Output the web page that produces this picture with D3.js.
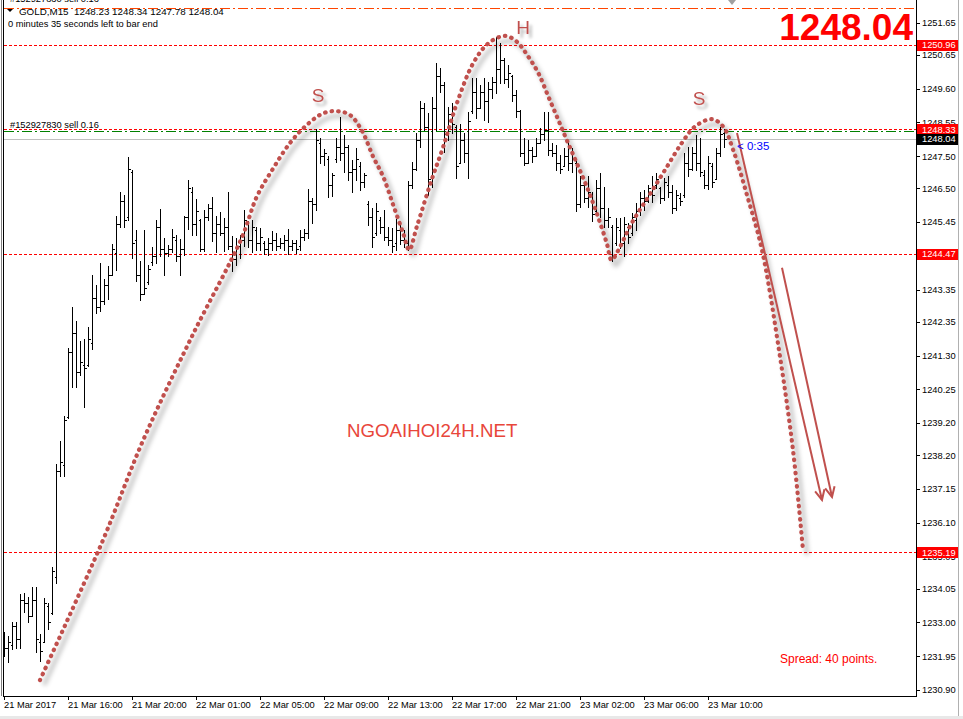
<!DOCTYPE html>
<html>
<head>
<meta charset="utf-8">
<script src="https://cdn.jsdelivr.net/npm/d3@7/dist/d3.min.js"></script>
<style>
body { margin: 0; background: #fff; }
svg { display: block; font-family: "Liberation Sans", Arial, sans-serif; }
text { white-space: pre; }
</style>
</head>
<body>
<svg id="chart" width="963" height="719"></svg>
<script>
// GOLD M15 bars, one per 15 minutes
var open = [
1232.5,1232.2,1232.3,1232.9,1232.5,1233.7,1233.6,1233.2,1233.7,1232.4,
1232.4,1233.5,1233.3,1234.4,1237.7,1237.9,1239.4,1241.4,1242.0,1240.8,
1241.0,1241.0,1241.7,1243.1,1242.8,1243.0,1243.5,1243.8,1244.5,1245.4,
1246.1,1245.6,1247.0,1244.9,1243.8,1243.2,1243.6,1244.2,1244.4,1245.3,
1244.6,1244.5,1244.6,1244.9,1244.4,1244.6,1245.6,1246.4,1245.4,1245.5,
1244.6,1245.6,1245.9,1245.1,1245.4,1245.1,1245.3,1244.7,1244.3,1244.7,
1244.9,1245.4,1244.9,1245.2,1244.8,1244.8,1244.6,1244.8,1244.9,1244.7,
1244.8,1244.9,1244.7,1244.8,1244.7,1245.0,1245.1,1246.1,1246.0,1247.9,
1247.5,1247.4,1246.6,1247.4,1247.8,1247.6,1247.8,1247.0,1247.1,1247.2,
1246.7,1246.0,1245.6,1245.1,1245.5,1245.3,1245.0,1244.9,1244.8,1245.2,
1244.9,1244.8,1246.6,1247.1,1248.0,1249.0,1248.4,1246.7,1249.0,1250.0,
1249.7,1248.2,1248.8,1248.4,1247.3,1248.0,1247.6,1248.9,1249.5,1249.0,
1249.5,1249.2,1249.6,1249.8,1250.2,1250.5,1249.9,1250.0,1249.4,1248.9,
1247.6,1247.3,1247.7,1247.5,1247.9,1248.2,1248.3,1247.7,1247.6,1247.3,
1247.2,1247.5,1247.3,1247.3,1246.0,1246.6,1246.2,1246.3,1245.8,1246.5,
1245.9,1245.5,1245.3,1244.8,1245.2,1244.8,1245.3,1245.1,1245.5,1245.8,
1246.2,1246.1,1246.4,1246.6,1246.5,1246.2,1246.6,1246.4,1245.9,1246.2,
1246.3,1247.3,1247.1,1247.6,1247.3,1246.9,1246.6,1247.2,1246.8,1247.6,
1248.23];

var high = [
1232.71,1232.57,1233.02,1233.00,1233.88,1233.93,1233.78,1234.09,1234.09,1232.64,
1233.75,1233.62,1234.74,1237.93,1238.64,1239.42,1241.54,1242.80,1242.37,1241.75,
1241.82,1242.20,1243.79,1243.48,1244.18,1243.68,1244.10,1244.77,1245.63,1246.40,
1246.29,1247.47,1247.08,1245.19,1244.23,1245.21,1244.13,1244.68,1245.51,1245.86,
1244.96,1244.75,1245.22,1245.06,1244.93,1245.65,1246.77,1246.54,1246.17,1245.55,
1245.82,1246.01,1246.22,1245.63,1245.76,1245.58,1246.40,1245.03,1244.96,1245.06,
1245.82,1245.47,1245.52,1245.31,1245.26,1244.85,1244.95,1245.18,1245.11,1244.95,
1245.05,1245.23,1244.90,1244.88,1245.21,1245.23,1246.47,1246.19,1248.34,1248.06,
1247.71,1247.51,1246.99,1248.06,1248.71,1248.16,1247.85,1247.38,1247.75,1247.33,
1246.97,1246.10,1245.88,1246.04,1245.60,1245.83,1245.31,1245.26,1245.54,1245.44,
1245.21,1246.74,1247.33,1248.21,1249.23,1249.16,1248.85,1249.35,1250.41,1250.23,
1249.82,1249.04,1249.16,1248.47,1248.50,1248.21,1248.88,1249.92,1249.92,1249.71,
1249.92,1249.82,1249.95,1251.21,1251.01,1250.54,1250.33,1250.02,1249.56,1248.94,
1248.06,1248.00,1247.80,1248.06,1248.37,1248.88,1248.88,1247.90,1247.85,1247.54,
1247.75,1248.00,1247.75,1247.38,1246.87,1246.71,1246.87,1246.40,1246.76,1246.97,
1246.55,1245.88,1245.36,1245.57,1245.57,1245.62,1245.42,1245.73,1246.04,1246.40,
1246.45,1246.61,1246.87,1246.97,1246.55,1246.81,1246.87,1246.61,1246.45,1246.35,
1247.59,1247.80,1247.80,1248.16,1248.06,1247.07,1247.49,1247.28,1247.75,1248.42,
1248.34];

var low = [
1231.96,1231.78,1232.17,1232.20,1232.20,1233.31,1233.02,1233.21,1232.09,1231.81,
1232.38,1232.79,1233.26,1234.22,1237.56,1237.56,1239.37,1240.33,1240.33,1240.68,
1239.70,1240.97,1241.49,1242.63,1242.68,1242.89,1243.06,1243.82,1243.95,1245.30,
1245.30,1245.51,1244.33,1243.61,1243.04,1243.23,1243.54,1244.13,1244.18,1244.39,
1243.82,1244.41,1244.51,1244.23,1243.81,1244.44,1245.22,1245.06,1245.06,1244.54,
1244.54,1245.53,1244.85,1244.51,1245.06,1244.54,1244.62,1243.92,1244.13,1244.34,
1244.70,1244.69,1244.51,1244.59,1244.59,1244.46,1244.43,1244.59,1244.59,1244.64,
1244.59,1244.46,1244.57,1244.48,1244.59,1244.90,1244.95,1245.42,1245.83,1247.28,
1247.23,1246.24,1246.27,1247.33,1247.38,1247.02,1246.76,1246.37,1246.76,1246.45,
1246.55,1245.36,1244.69,1245.05,1245.11,1244.90,1244.74,1244.51,1244.59,1244.77,
1244.69,1244.59,1246.50,1247.07,1247.80,1248.31,1246.30,1246.55,1248.31,1249.50,
1247.64,1248.00,1248.21,1246.81,1247.28,1247.33,1246.81,1248.83,1248.68,1248.99,
1248.62,1248.57,1249.30,1249.45,1249.76,1249.76,1249.66,1249.20,1248.73,1247.49,
1247.23,1247.28,1247.33,1247.49,1247.90,1248.00,1247.54,1247.49,1247.07,1246.97,
1247.18,1247.07,1247.02,1245.78,1245.93,1246.09,1245.93,1245.47,1245.67,1245.62,
1245.31,1245.31,1244.23,1244.74,1244.64,1244.38,1244.79,1245.05,1245.21,1245.67,
1245.83,1246.09,1246.09,1246.50,1246.04,1246.14,1246.24,1245.73,1245.83,1245.99,
1246.24,1246.87,1247.07,1247.07,1246.87,1246.50,1246.47,1246.55,1246.81,1247.49,
1247.78];

var close = [
1232.2,1232.4,1232.9,1232.5,1233.7,1233.6,1233.2,1233.7,1232.5,1232.1,
1233.6,1233.0,1234.6,1237.7,1238.0,1239.3,1241.4,1242.0,1240.8,1241.1,
1240.9,1241.8,1243.1,1242.8,1243.0,1243.5,1243.8,1244.6,1245.4,1246.1,
1245.5,1247.1,1244.8,1243.8,1243.2,1243.4,1244.0,1244.4,1245.3,1244.6,
1244.5,1244.6,1245.0,1244.4,1244.6,1245.6,1246.5,1245.4,1245.8,1244.6,
1245.6,1245.9,1245.1,1245.4,1245.1,1245.3,1244.7,1244.3,1244.7,1244.9,
1245.5,1244.9,1245.3,1244.8,1245.0,1244.6,1244.8,1244.9,1244.7,1244.8,
1244.9,1244.7,1244.8,1244.6,1245.0,1245.1,1246.1,1246.0,1248.0,1247.5,
1247.6,1246.6,1246.9,1247.8,1247.6,1247.8,1247.0,1247.1,1247.4,1246.7,
1246.9,1245.6,1245.0,1245.8,1245.3,1245.0,1244.9,1244.7,1245.2,1244.9,
1244.8,1246.6,1247.1,1248.0,1249.0,1248.4,1246.8,1249.0,1250.0,1249.7,
1248.2,1248.8,1248.5,1247.2,1248.0,1247.6,1248.6,1249.5,1249.0,1249.5,
1249.2,1249.6,1249.8,1250.2,1250.5,1249.9,1250.1,1249.4,1248.9,1247.6,
1247.3,1247.7,1247.5,1247.9,1248.2,1248.3,1247.7,1247.6,1247.3,1247.1,
1247.5,1247.3,1247.4,1246.0,1246.6,1246.2,1246.4,1245.7,1246.5,1245.9,
1245.5,1245.6,1244.4,1245.3,1244.8,1245.4,1245.0,1245.6,1245.8,1246.2,
1246.1,1246.5,1246.3,1246.8,1246.2,1246.7,1246.4,1245.9,1246.3,1246.1,
1247.3,1247.1,1247.6,1247.3,1247.0,1246.6,1247.3,1246.7,1247.6,1248.2,
1248.04];

// axis labels
var price_ticks = [1251.65, 1250.65, 1249.60, 1248.55, 1247.50, 1246.50, 1245.45, 1244.40,
	1243.35, 1242.35, 1241.30, 1240.25, 1239.20, 1238.20, 1237.15, 1236.10, 1235.05,
	1234.05, 1233.00, 1231.95, 1230.90];
var time_tick_bars = [0, 16, 32, 48, 64, 80, 96, 112, 128, 144, 160, 176];
var time_tick_labels = ["21 Mar 2017", "21 Mar 16:00", "21 Mar 20:00", "22 Mar 01:00",
	"22 Mar 05:00", "22 Mar 09:00", "22 Mar 13:00", "22 Mar 17:00", "22 Mar 21:00",
	"23 Mar 02:00", "23 Mar 06:00", "23 Mar 10:00"];

// price levels drawn on the chart
var red_levels = [1250.96, 1248.33, 1244.47, 1235.19];
var bid_price = 1248.04;
var order_price = 1248.27;
var stop_price = 1252.11;

// head & shoulders sketch, [bar, price]
var pattern_path = [[9,1231.21],[24.4,1235.46],[34.8,1238.67],[47,1241.9],[59.4,1244.95],[63.2,1246.24],
	[67.3,1247.12],[71.5,1247.91],[75.7,1248.47],[79.75,1248.83],[83.2,1248.90],[86.5,1248.78],
	[89.4,1248.31],[92.3,1247.48],[94.8,1246.86],[97.3,1245.98],[99.8,1245.10],[101.3,1244.58],
	[103.2,1245.31],[106.9,1246.76],[109.8,1247.79],[113.2,1249.14],[117.3,1250.39],[121.1,1251.01],
	[125.25,1251.24],[128.2,1251.06],[131.1,1250.59],[133.6,1250.08],[136.1,1249.35],[138.6,1248.62],
	[140.7,1248.00],[143.2,1247.28],[145.7,1246.55],[148.2,1245.72],[150.7,1244.79],[151.9,1244.27],
	[153.6,1244.58],[156.9,1245.41],[161.1,1246.24],[165.25,1247.07],[169.4,1247.90],[172.75,1248.42],
	[176.9,1248.65],[179.8,1248.42],[182.3,1247.69],[185.75,1246.29],[189.5,1244.58],[193.75,1241.47],
	[197.25,1238.36],[199.75,1235.25]];
var arrows = [
	[[183.25,1248.22],[204.5,1236.81]],
	[[194.5,1244.03],[207,1236.90]]
];
var pattern_labels = [
	{text: "S", bar: 78.5, price: 1249.40},
	{text: "H", bar: 129.75, price: 1251.49},
	{text: "S", bar: 173.75, price: 1249.31}
];

var plot_left = 4, plot_right = 916, plot_bottom = 696;
var sketch_color = "#c0504d";

var svg = d3.select("#chart");

var x = d3.scaleLinear()
		.domain([0, 228])
		.range([plot_left, plot_right]);

var y = d3.scaleLinear()
		.domain([1230.90, 1251.65])
		.range([690, 22.7]);

var px = function(v){ return Math.round(v) + 0.5; };

var defs = svg.append("defs");
defs.append("clipPath")
		.attr("id", "plot-clip")
	.append("rect")
		.attr("x", plot_left)
		.attr("y", 0)
		.attr("width", plot_right - plot_left)
		.attr("height", plot_bottom);
defs.append("filter")
		.attr("id", "blur")
		.attr("x", "-20%").attr("y", "-20%")
		.attr("width", "140%").attr("height", "140%")
	.append("feGaussianBlur")
		.attr("stdDeviation", 2);
defs.append("filter")
		.attr("id", "drop")
		.attr("x", "-50%").attr("y", "-50%")
		.attr("width", "200%").attr("height", "200%")
	.append("feDropShadow")
		.attr("dx", 3).attr("dy", 4)
		.attr("stdDeviation", 1.8)
		.attr("flood-color", "#000")
		.attr("flood-opacity", 0.3);

var plot = svg.append("g").attr("clip-path", "url(#plot-clip)");

// the level lines
plot.append("line")
		.attr("x1", plot_left).attr("x2", plot_right)
		.attr("y1", px(y(stop_price))).attr("y2", px(y(stop_price)))
		.attr("stroke", "#ff4500")
		.attr("stroke-dasharray", "10,3,2,3");

plot.append("line")
		.attr("x1", plot_left).attr("x2", plot_right)
		.attr("y1", px(y(bid_price))).attr("y2", px(y(bid_price)))
		.attr("stroke", "#c0c0c0");

plot.append("line")
		.attr("x1", plot_left).attr("x2", plot_right)
		.attr("y1", px(y(order_price))).attr("y2", px(y(order_price)))
		.attr("stroke", "#008000")
		.attr("stroke-dasharray", "10,3,2,3");

plot.selectAll(".level")
		.data(red_levels)
	.enter().append("line")
		.attr("class", "level")
		.attr("x1", plot_left).attr("x2", plot_right)
		.attr("y1", function(d){ return px(y(d)); })
		.attr("y2", function(d){ return px(y(d)); })
		.attr("stroke", "#ff0000")
		.attr("stroke-dasharray", "3,2");

// the bars
var bars = d3.range(open.length);
plot.selectAll(".bar")
		.data(bars)
	.enter().append("path")
		.attr("class", "bar")
		.attr("fill", "none")
		.attr("stroke", "#000")
		.attr("shape-rendering", "crispEdges")
		.attr("d", function(i){
			var bx = px(x(i));
			var yo = px(y(open[i])), yc = px(y(close[i]));
			return "M" + bx + "," + Math.round(y(high[i])) + "V" + (Math.round(y(low[i])) + 1) +
				"M" + (bx - 2) + "," + yo + "H" + bx +
				"M" + bx + "," + yc + "H" + (bx + 2.5);
		});

// the sketch
var sketch_line = d3.line()
		.x(function(d){ return x(d[0]); })
		.y(function(d){ return y(d[1]); })
		.curve(d3.curveCatmullRom);

var sketch = svg.append("g");

sketch.append("path")
		.attr("d", sketch_line(pattern_path))
		.attr("fill", "none")
		.attr("stroke", "#000")
		.attr("stroke-opacity", 0.2)
		.attr("stroke-width", 4.5)
		.attr("transform", "translate(4,5)")
		.attr("filter", "url(#blur)");

sketch.append("path")
		.attr("d", sketch_line(pattern_path))
		.attr("fill", "none")
		.attr("stroke", sketch_color)
		.attr("stroke-width", 4.2)
		.attr("stroke-linecap", "round")
		.attr("stroke-dasharray", "0.5,6.1");

arrows.forEach(function(a){
	var x1 = x(a[0][0]), y1 = y(a[0][1]), x2 = x(a[1][0]), y2 = y(a[1][1]);
	var ang = Math.atan2(y2 - y1, x2 - x1);
	var head = 11, spread = 0.45;
	sketch.append("line")
			.attr("x1", x1).attr("y1", y1)
			.attr("x2", x2).attr("y2", y2)
			.attr("stroke", sketch_color)
			.attr("stroke-width", 2);
	sketch.append("path")
			.attr("d", "M" + (x2 - head * Math.cos(ang - spread)) + "," + (y2 - head * Math.sin(ang - spread)) +
				"L" + x2 + "," + y2 +
				"L" + (x2 - head * Math.cos(ang + spread)) + "," + (y2 - head * Math.sin(ang + spread)))
			.attr("fill", "none")
			.attr("stroke", sketch_color)
			.attr("stroke-width", 2);
});

// S H S letters
sketch.selectAll(".pattern-label")
		.data(pattern_labels)
	.enter().append("text")
		.attr("class", "pattern-label")
		.attr("x", function(d){ return x(d.bar); })
		.attr("y", function(d){ return y(d.price); })
		.attr("dy", "0.35em")
		.attr("text-anchor", "middle")
		.attr("font-size", 19)
		.attr("fill", sketch_color)
		.attr("filter", "url(#drop)")
		.text(function(d){ return d.text; });

// the frame
svg.append("line")
		.attr("x1", 1.5).attr("x2", 1.5).attr("y1", 0).attr("y2", plot_bottom)
		.attr("stroke", "#808080");
svg.append("line")
		.attr("x1", 3.5).attr("x2", 3.5).attr("y1", 0).attr("y2", plot_bottom + 1)
		.attr("stroke", "#000");
svg.append("line")
		.attr("x1", 3).attr("x2", plot_right + 1).attr("y1", plot_bottom + 0.5).attr("y2", plot_bottom + 0.5)
		.attr("stroke", "#000");
svg.append("line")
		.attr("x1", plot_right + 0.5).attr("x2", plot_right + 0.5).attr("y1", 0).attr("y2", plot_bottom + 1)
		.attr("stroke", "#000");
svg.append("line")
		.attr("x1", 958.5).attr("x2", 958.5).attr("y1", 0).attr("y2", 716)
		.attr("stroke", "#b0b0b0");
svg.append("rect")
		.attr("x", 0).attr("y", 716).attr("width", 963).attr("height", 3)
		.attr("fill", "#e8e8e8");

// the price axis
var price_axis = svg.append("g");
price_axis.selectAll(".ptick")
		.data(price_ticks)
	.enter().append("line")
		.attr("x1", plot_right + 1).attr("x2", plot_right + 4)
		.attr("y1", function(d){ return px(y(d)); })
		.attr("y2", function(d){ return px(y(d)); })
		.attr("stroke", "#000");
price_axis.selectAll(".plabel")
		.data(price_ticks)
	.enter().append("text")
		.attr("x", 922)
		.attr("y", function(d){ return y(d); })
		.attr("dy", "0.36em")
		.attr("font-size", 9.3)
		.attr("fill", "#000")
		.text(function(d){ return d.toFixed(2); });

// level boxes on the price axis
var boxes = red_levels.map(function(d){ return {price: d, fill: "#ff0000"}; });
boxes.push({price: bid_price, fill: "#000"});
var box = price_axis.selectAll(".pbox")
		.data(boxes)
	.enter().append("g");
box.append("rect")
		.attr("x", plot_right + 1)
		.attr("y", function(d){ return Math.round(y(d.price)) - 5; })
		.attr("width", 41)
		.attr("height", 11)
		.attr("fill", function(d){ return d.fill; });
box.append("text")
		.attr("x", 922)
		.attr("y", function(d){ return y(d.price); })
		.attr("dy", "0.38em")
		.attr("font-size", 9.3)
		.attr("fill", "#fff")
		.text(function(d){ return d.price.toFixed(2); });

// the time axis
var time_axis = svg.append("g");
time_axis.selectAll(".ttick")
		.data(time_tick_bars)
	.enter().append("line")
		.attr("x1", function(d){ return px(x(d)); })
		.attr("x2", function(d){ return px(x(d)); })
		.attr("y1", plot_bottom).attr("y2", plot_bottom + 4)
		.attr("stroke", "#000");
time_axis.selectAll(".tlabel")
		.data(time_tick_bars)
	.enter().append("text")
		.attr("x", function(d){ return x(d); })
		.attr("y", 708)
		.attr("font-size", 9.3)
		.attr("fill", "#000")
		.text(function(d, i){ return time_tick_labels[i]; });

// header texts
svg.append("text")
		.attr("x", 10).attr("y", 1.5)
		.attr("font-size", 9.3)
		.text("#152927830 sell 0.16");
svg.append("path")
		.attr("d", "M7,9L13,9L10,12Z")
		.attr("fill", "#000");
svg.append("text")
		.attr("x", 19).attr("y", 15)
		.attr("font-size", 9.8)
		.text("GOLD,M15  1248.23 1248.34 1247.78 1248.04");
svg.append("text")
		.attr("x", 8).attr("y", 27)
		.attr("font-size", 9.3)
		.text("0 minutes 35 seconds left to bar end");
svg.append("text")
		.attr("x", 10).attr("y", y(1248.33) - 1)
		.attr("font-size", 9.3)
		.text("#152927830 sell 0.16");

// gray marker at top
svg.append("path")
		.attr("d", "M728,0L736,0L732,5Z")
		.attr("fill", "#a0a0a0");

// bid price
svg.append("text")
		.attr("x", 913).attr("y", 40)
		.attr("text-anchor", "end")
		.attr("font-size", 37)
		.attr("font-weight", "bold")
		.attr("fill", "#ff0000")
		.text(bid_price.toFixed(2));

svg.append("text")
		.attr("x", 737).attr("y", y(bid_price) + 11)
		.attr("font-size", 11.5)
		.attr("fill", "#0000ff")
		.text("< 0:35");

svg.append("text")
		.attr("x", 347).attr("y", 437)
		.attr("font-size", 18.7)
		.attr("fill", "#e8463a")
		.text("NGOAIHOI24H.NET");

svg.append("text")
		.attr("x", 780).attr("y", 663)
		.attr("font-size", 12)
		.attr("fill", "#ff0000")
		.text("Spread: 40 points.");
</script>
</body>
</html>
